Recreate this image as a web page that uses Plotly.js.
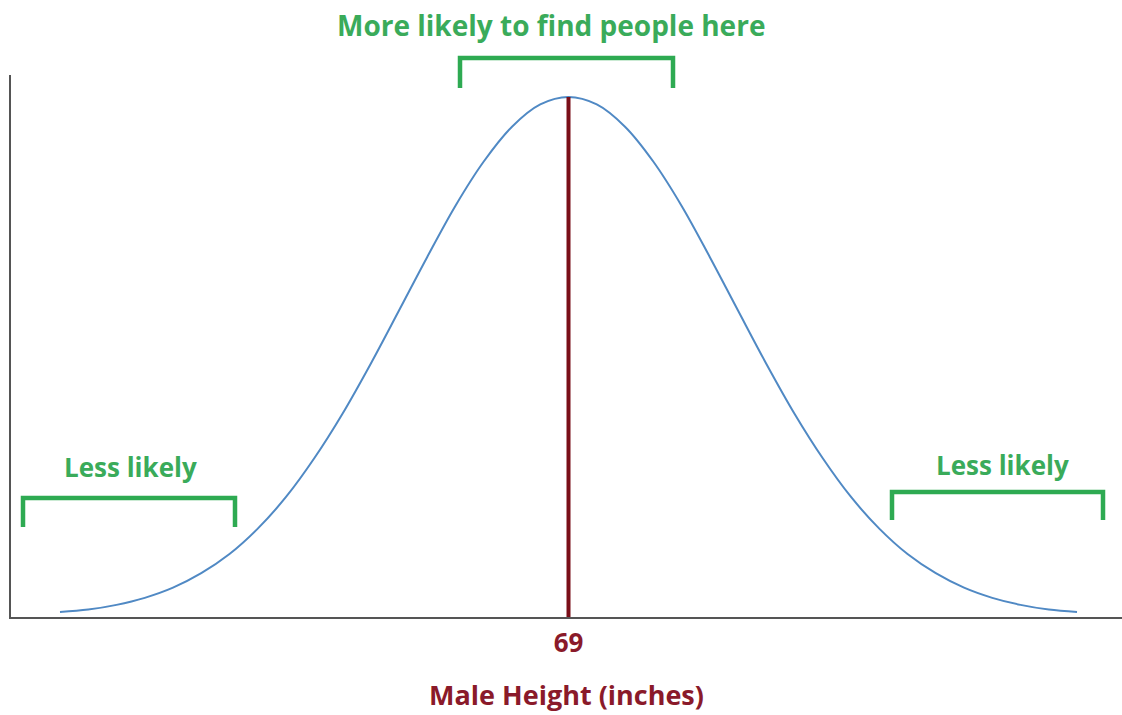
<!DOCTYPE html>
<html>
<head>
<meta charset="utf-8">
<script src="https://cdn.plot.ly/plotly-3.0.1.min.js"></script>
<style>
  html, body { margin: 0; padding: 0; background: #fff; }
  #chart { width: 1122px; height: 715px; }
</style>
</head>
<body>
<div id="chart"></div>
<script>
// height in inches and share of men (%)
var heights = [60, 60.5, 61, 61.5, 62, 62.5, 63, 63.5, 64, 64.5, 65, 65.5, 66, 66.5, 67, 67.5, 68, 68.5,
               69, 69.5, 70, 70.5, 71, 71.5, 72, 72.5, 73, 73.5, 74, 74.5, 75, 75.5, 76, 76.5, 77, 77.5, 78];
var share = [0.13, 0.19, 0.31, 0.49, 0.75, 1.12, 1.61, 2.26, 3.07, 4.06, 5.2, 6.48, 7.84, 9.21, 10.52, 11.65, 12.54, 13.11,
             13.3, 13.11, 12.54, 11.65, 10.52, 9.21, 7.84, 6.48, 5.2, 4.06, 3.07, 2.26, 1.61, 1.12, 0.75, 0.49, 0.31, 0.19, 0.13];
var meanHeight = 69;
var peakShare = 13.3;
var tickValues = [69];
var tickLabels = ['69'];

var green = '#2eaa52';
var maroon = '#8a1a2a';
var font = 'Open Sans';

// plot area in pixels: left 11, right 1122, top 75, bottom 617
function px(x) { return (x - 11) / 1111; }
function py(y) { return (617 - y) / 542; }
function bracket(x1, x2, yTop, yBot) {
    return {
        type: 'path', xref: 'paper', yref: 'paper',
        path: 'M' + px(x1) + ',' + py(yBot) + ' L' + px(x1) + ',' + py(yTop) +
              ' L' + px(x2) + ',' + py(yTop) + ' L' + px(x2) + ',' + py(yBot),
        line: {color: green, width: 4.5}
    };
}
function label(text, x, y, size) {
    return {
        text: text, xref: 'paper', yref: 'paper', x: px(x), y: py(y),
        xanchor: 'center', yanchor: 'middle', showarrow: false,
        font: {family: font, size: size, color: '#3aab5a', weight: 'bold'}
    };
}

var traces = [];
traces.push({
    x: heights,
    y: share,
    type: 'scatter',
    mode: 'lines',
    line: {color: '#5089c4', width: 2, shape: 'spline', smoothing: 1},
    hoverinfo: 'skip'
});
traces.push({
    x: [meanHeight, meanHeight],
    y: [0, peakShare],
    type: 'scatter',
    mode: 'lines',
    line: {color: '#7a0e18', width: 4},
    hoverinfo: 'skip'
});

var layout = {
    width: 1122,
    height: 715,
    margin: {l: 11, r: 0, t: 75, b: 98},
    paper_bgcolor: '#fff',
    plot_bgcolor: '#fff',
    showlegend: false,
    xaxis: {
        range: [59.133, 78.796],
        showgrid: false,
        zeroline: false,
        showline: true,
        linecolor: '#555',
        linewidth: 2,
        tickvals: tickValues,
        ticktext: tickLabels,
        ticks: '',
        ticklabelstandoff: 2,
        tickfont: {family: font, size: 26, color: maroon, weight: 'bold'},
        title: {
            text: 'Male Height (inches)',
            standoff: 27,
            font: {family: font, size: 27, color: maroon, weight: 'bold'}
        }
    },
    yaxis: {
        range: [0, peakShare * 542 / 520],
        showgrid: false,
        zeroline: false,
        showline: true,
        linecolor: '#555',
        linewidth: 2,
        showticklabels: false,
        ticks: ''
    },
    shapes: [
        bracket(23, 235, 498, 527),
        bracket(460, 673, 58, 88),
        bracket(892, 1103, 492, 520)
    ],
    annotations: [
        label('More likely to find people here', 551, 25, 28),
        label('Less likely', 130, 467, 26),
        label('Less likely', 1002, 465, 26)
    ]
};

Plotly.newPlot('chart', traces, layout, {displayModeBar: false, staticPlot: true});
</script>
</body>
</html>
